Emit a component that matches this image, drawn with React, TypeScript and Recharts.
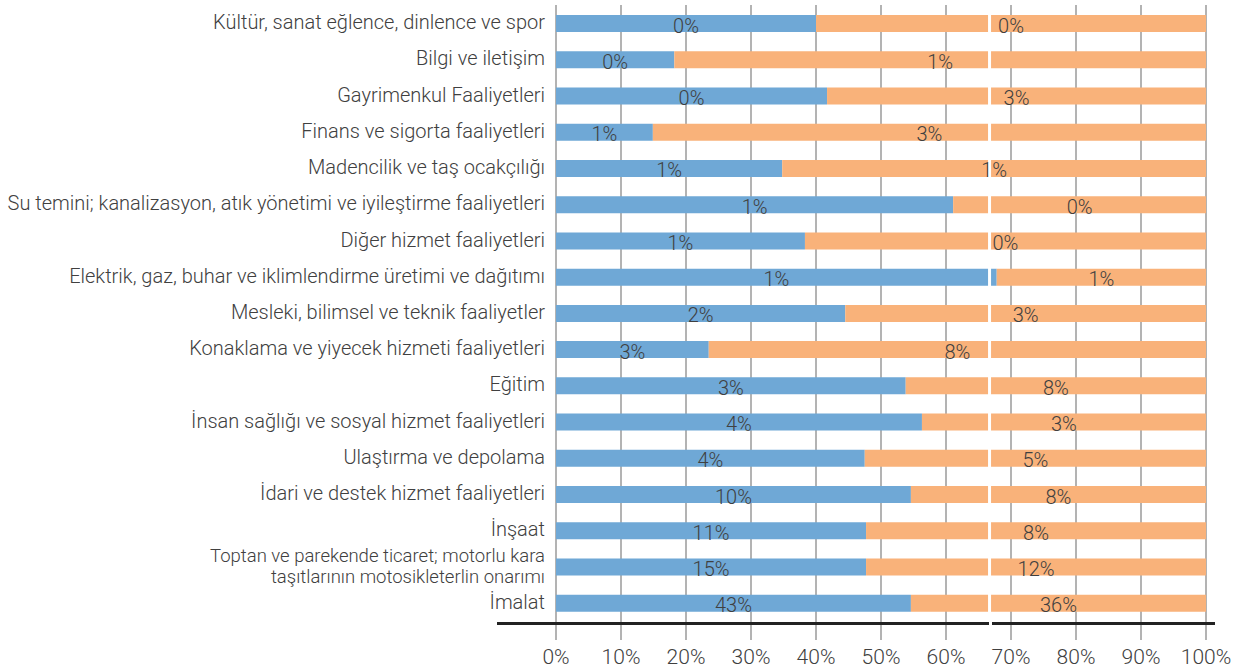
import React from 'react';
import { BarChart, Bar, XAxis, YAxis, CartesianGrid, ReferenceLine, LabelList } from 'recharts';

const categories = [
    'Kültür, sanat eğlence, dinlence ve spor',
    'Bilgi ve iletişim',
    'Gayrimenkul Faaliyetleri',
    'Finans ve sigorta faaliyetleri',
    'Madencilik ve taş ocakçılığı',
    'Su temini; kanalizasyon, atık yönetimi ve iyileştirme faaliyetleri',
    'Diğer hizmet faaliyetleri',
    'Elektrik, gaz, buhar ve iklimlendirme üretimi ve dağıtımı',
    'Mesleki, bilimsel ve teknik faaliyetler',
    'Konaklama ve yiyecek hizmeti faaliyetleri',
    'Eğitim',
    'İnsan sağlığı ve sosyal hizmet faaliyetleri',
    'Ulaştırma ve depolama',
    'İdari ve destek hizmet faaliyetleri',
    'İnşaat',
    'Toptan ve parekende ticaret; motorlu kara\ntaşıtlarının motosikleterlin onarımı',
    'İmalat',
];

const blueShare = [40, 18.2, 41.7, 14.9, 34.8, 61.1, 38.3, 67.8, 44.5, 23.5, 53.8, 56.3, 47.5, 54.6, 47.7, 47.7, 54.6];
const orangeShare = [60, 81.8, 58.3, 85.1, 65.2, 38.9, 61.7, 32.2, 55.5, 76.5, 46.2, 43.7, 52.5, 45.4, 52.3, 52.3, 45.4];
const blueLabels = ['0%', '0%', '0%', '1%', '1%', '1%', '1%', '1%', '2%', '3%', '3%', '4%', '4%', '10%', '11%', '15%', '43%'];
const orangeLabels = ['0%', '1%', '3%', '3%', '1%', '0%', '0%', '1%', '3%', '8%', '8%', '3%', '5%', '8%', '8%', '12%', '36%'];
const xTicks = [0, 10, 20, 30, 40, 50, 60, 70, 80, 90, 100];

const BLUE = '#6fa8d6';
const ORANGE = '#f9b27a';
const TEXT = '#404040';
const FONT = 'Roboto, sans-serif';

const data = categories.map((name, i) => ({
    name,
    blue: blueShare[i],
    orange: orangeShare[i],
    blueLabel: blueLabels[i],
    orangeLabel: orangeLabels[i],
}));

// category names; the two-line one gets a smaller font so it fits its row
const CategoryTick = (props: any) => {
    const { x, y, payload } = props;
    const lines = String(payload.value).split('\n');
    const multi = lines.length > 1;
    const lh = 21.5;
    return (
        <g>
            {lines.map((l, i) => (
                <text
                    key={i}
                    x={x}
                    y={multi ? y - 5 + i * lh : y + 6}
                    textAnchor="end"
                    fill={TEXT}
                    fontSize={multi ? 18.5 : 20}
                    fontFamily={FONT}
                    fontWeight={300}
                >
                    {l}
                </text>
            ))}
        </g>
    );
};

const SegmentLabel = (props: any) => {
    const { x, y, width, height, value } = props;
    return (
        <text
            x={x + width / 2}
            y={y + height / 2 + 9}
            textAnchor="middle"
            fill={TEXT}
            fontSize={20}
            fontFamily={FONT}
            fontWeight={300}
        >
            {value}
        </text>
    );
};

export default function App() {
    return (
        <div style={{ position: 'absolute', left: 0, top: 0, width: 1256, height: 672, background: '#fff' }}>
            <BarChart
                width={1256}
                height={672}
                data={data}
                layout="vertical"
                barCategoryGap={0}
                barSize={17}
                margin={{ top: 5, right: 50, bottom: 0, left: 0 }}
            >
                <CartesianGrid horizontal={false} vertical stroke="#9a9a9a" strokeWidth={1.5} />
                <XAxis
                    type="number"
                    domain={[0, 100]}
                    ticks={xTicks}
                    tickFormatter={(v: number) => `${v}%`}
                    axisLine={false}
                    tickLine={{ stroke: '#9a9a9a', strokeWidth: 1.5 }}
                    tickSize={19}
                    tickMargin={9}
                    height={51}
                    tick={{ fill: TEXT, fontSize: 21, fontFamily: FONT, fontWeight: 300 }}
                    interval={0}
                />
                <YAxis
                    type="category"
                    dataKey="name"
                    width={556}
                    axisLine={false}
                    tickLine={false}
                    tickSize={0}
                    tickMargin={11}
                    interval={0}
                    tick={<CategoryTick />}
                />
                <Bar dataKey="blue" stackId="a" fill={BLUE} isAnimationActive={false}>
                    <LabelList dataKey="blueLabel" content={<SegmentLabel />} />
                </Bar>
                <Bar dataKey="orange" stackId="a" fill={ORANGE} isAnimationActive={false}>
                    <LabelList dataKey="orangeLabel" content={<SegmentLabel />} />
                </Bar>
                <ReferenceLine x={66.7} stroke="#ffffff" strokeWidth={3} />
            </BarChart>
            {/* broken base line under the bars */}
            <div style={{ position: 'absolute', left: 497, top: 622, width: 492, height: 3, background: '#222' }} />
            <div style={{ position: 'absolute', left: 992, top: 622, width: 223, height: 3, background: '#222' }} />
        </div>
    );
}
